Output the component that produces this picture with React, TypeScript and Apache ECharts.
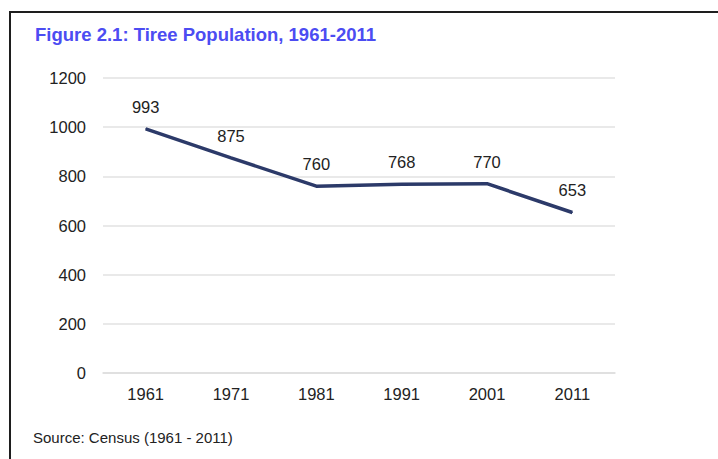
import React, { useEffect, useRef } from "react";
import * as echarts from "echarts";

const years = ["1961", "1971", "1981", "1991", "2001", "2011"];
const population = [993, 875, 760, 768, 770, 653];
const titleText = "Figure 2.1: Tiree Population, 1961-2011";
const sourceText = "Source: Census (1961 - 2011)";

export default function App() {
  const ref = useRef<HTMLDivElement>(null);
  useEffect(() => {
    if (!ref.current) return;
    const chart = echarts.init(ref.current, null, { renderer: "svg" });
    const font = "'Liberation Sans', Arial, sans-serif";
    chart.setOption({
      animation: false,
      backgroundColor: "#ffffff",
      textStyle: { fontFamily: font },
      graphic: [
        {
          type: "rect",
          shape: { x: 10, y: 12, width: 720, height: 460 },
          style: { fill: "none", stroke: "#1e1e1e", lineWidth: 2 },
          silent: true,
        },
        {
          type: "text",
          x: 35,
          y: 34,
          style: {
            text: titleText,
            fill: "#4c4cf2",
            font: `bold 18.5px ${font}`,
            textVerticalAlign: "middle",
          },
        },
        {
          type: "text",
          x: 33,
          y: 437,
          style: {
            text: sourceText,
            fill: "#222222",
            font: `15px ${font}`,
            textVerticalAlign: "middle",
          },
        },
      ],
      grid: { left: 103, right: 103, top: 78, bottom: 86, containLabel: false },
      xAxis: {
        type: "category",
        data: years,
        boundaryGap: true,
        axisLine: { show: true, lineStyle: { color: "#dddddd", width: 1.5 } },
        axisTick: { show: false },
        axisLabel: { color: "#222222", fontSize: 16.5, margin: 12, fontFamily: font },
      },
      yAxis: {
        type: "value",
        min: 0,
        max: 1200,
        interval: 200,
        axisLine: { show: false },
        axisTick: { show: false },
        axisLabel: {
          color: "#222222",
          fontSize: 16.5,
          margin: 17,
          fontFamily: font,
          formatter: (v: number) => String(v),
        },
        splitLine: { lineStyle: { color: "#e2e2e2", width: 1.5 } },
      },
      series: [
        {
          type: "line",
          data: population,
          symbol: "circle",
          symbolSize: 1,
          itemStyle: { color: "#2c3a69" },
          lineStyle: { color: "#2c3a69", width: 3.5 },
          label: {
            show: true,
            position: "top",
            distance: 13,
            color: "#222222",
            fontSize: 16.5,
            fontFamily: font,
          },
        },
      ],
    });
    return () => chart.dispose();
  }, []);
  return (
    <div
      ref={ref}
      style={{ position: "fixed", left: 0, top: 0, width: 718, height: 459 }}
    />
  );
}
